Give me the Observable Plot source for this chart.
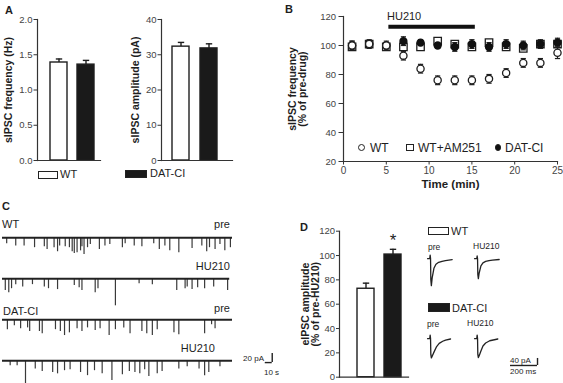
<!DOCTYPE html>
<html>
<head>
<meta charset="utf-8">
<script src="https://cdn.jsdelivr.net/npm/d3@7"></script>
<script src="https://cdn.jsdelivr.net/npm/@observablehq/plot@0.6"></script>
<style>
  html, body { margin: 0; padding: 0; background: #fff; }
  #fig { position: relative; width: 563px; height: 383px; overflow: hidden; background: #fff;
         font-family: "Liberation Sans", Arial, Helvetica, sans-serif; color: #1e1e1e; }
  .lbl { position: absolute; white-space: nowrap; line-height: 1; }
  .box { position: absolute; box-sizing: border-box; border: 1.2px solid #222; }
  .sym { position: absolute; box-sizing: border-box; border: 1.2px solid #222; }
</style>
</head>
<body>
<div id="fig"></div>
<script>
// ---------------- DATA ----------------
// Panel A: spontaneous IPSCs
const groups = ["WT", "DAT-CI"];
const sipscFreqHz = [1.39, 1.36];
const sipscFreqErr = [0.05, 0.06];
const sipscAmpPA = [32.3, 31.8];
const sipscAmpErr = [1.2, 1.3];

// Panel B: time course (% of pre-drug)
const timeMin = [1, 3, 5, 7, 9, 11, 13, 15, 17, 19, 21, 23, 25];
const wtFreq = [100, 101, 100, 93, 84, 76, 76, 76, 77, 81, 88, 88, 95];
const wtErr = [3, 3, 3, 3, 3, 3, 3, 3, 3, 3, 3, 3, 4];
const wtAm251Freq = [99, 101, 99, 99, 99, 103, 101, 99, 102, 99, 98, 101, 101];
const wtAm251Err = [2, 2, 2, 2, 2, 2, 2, 2, 2, 2, 2, 2, 2];
const datFreq = [100, 101, 100, 103, 102, 100, 99, 101, 99, 101, 100, 101, 102];
const datErr = [3, 2, 2, 3, 2, 2, 3, 3, 3, 3, 3, 3, 3];
const hu210Window = [5.3, 15.4];   // minutes of drug application
const hu210BarLevel = 113;

// Panel C: example sIPSC traces (event time in s, event amplitude in pA)
const traceIds = ["WT pre", "WT HU210", "DAT-CI pre", "DAT-CI HU210"];
const traceEndSec = [330, 326, 330, 330];
const wtPreT = [6, 19, 31, 46, 60, 64, 74, 79, 82, 90, 96, 100, 103, 107, 112, 114, 117, 122, 126, 139, 147, 154, 172, 176, 189, 200, 217, 225, 233, 240, 253, 272, 286, 293, 297, 305, 312, 319, 327];
const wtPreA = [13, 18, 18, 22, 20, 26, 22, 31, 18, 20, 22, 31, 35, 33, 29, 20, 37, 22, 15, 26, 18, 15, 22, 13, 18, 20, 13, 26, 18, 29, 33, 24, 18, 31, 22, 26, 15, 29, 22];
const wtHuT = [4, 9, 13, 19, 29, 43, 60, 66, 79, 103, 110, 114, 133, 137, 162, 196, 215, 250, 262, 265, 272, 280, 290, 303, 323];
const wtHuA = [26, 31, 22, 13, 18, 13, 18, 22, 24, 15, 20, 26, 31, 22, 60, 11, 13, 26, 22, 18, 24, 20, 22, 18, 26];
const datPreSpT = [7, 17, 26, 36, 39, 53, 57, 76, 83, 89, 96, 107, 114, 122, 133, 140, 153, 162, 174, 183, 200, 207, 215, 222, 246, 253, 290, 300, 305];
const datPreSpA = [22, 13, 20, 18, 26, 26, 31, 22, 26, 35, 29, 20, 26, 18, 24, 20, 35, 22, 18, 31, 26, 31, 35, 22, 29, 33, 31, 11, 20];
const datHuSpT = [11, 21, 33, 47, 57, 72, 79, 89, 97, 112, 122, 132, 143, 157, 172, 182, 190, 197, 204, 210, 222, 229, 253, 265, 282, 290, 296, 312];
const datHuSpA = [11, 11, 53, 18, 24, 26, 29, 22, 20, 26, 33, 22, 29, 44, 31, 24, 26, 29, 20, 35, 29, 24, 18, 13, 18, 33, 26, 13];
const cScaleBarSec = [377, 387];   // 10 s
const cScaleBarPA = [-4, 16];      // 20 pA

// Panel D: evoked IPSC amplitude (% of pre-HU210)
const eipscPct = [72.7, 100.8];
const eipscErr = [4.6, 4.3];
const sigMarks = ["", "*"];

// Panel D insets: averaged eIPSC waveforms (ms, pA)
const wavePreWT_T = [-22, -6, -3, 0, 2, 6, 12, 25, 40, 60, 85, 110, 160];
const wavePreWT_I = [0, 0, 20, 0, -120, -154, -110, -55, -32, -21, -15, -11, -6];
const waveHuWT_T = [-22, -6, -3, 0, 2, 6, 12, 25, 40, 60, 85, 110, 160];
const waveHuWT_I = [0, 0, 15, 0, -90, -114, -82, -41, -24, -16, -11, -8, -5];
const wavePreDAT_T = [-22, -6, -3, 0, 2, 6, 12, 27, 45, 64, 90, 111, 148];
const wavePreDAT_I = [0, 0, 20, 0, -90, -110, -100, -74, -45, -27, -15, -8, -2];
const waveHuDAT_T = [-22, -6, -3, 0, 2, 6, 12, 25, 40, 60, 90, 150];
const waveHuDAT_I = [0, 0, 20, 0, -90, -108, -98, -70, -42, -25, -12, -2];
const dScaleBarMs = [244, 444];    // 200 ms
const dScaleBarPA = [-153, -113];  // 40 pA

// ---------------- HELPERS ----------------
const fig = document.getElementById("fig");
const FONT = '"Liberation Sans", Arial, Helvetica, sans-serif';
const INK = "#1e1e1e";
const AX = "#333";
function mount(svg, left, top) {
  svg.style.position = "absolute";
  svg.style.left = left + "px";
  svg.style.top = top + "px";
  svg.style.overflow = "visible";
  fig.appendChild(svg);
}
function label(text, left, top, size, opts = {}) {
  const d = document.createElement("div");
  d.className = "lbl";
  d.textContent = text;
  d.style.top = top + "px";
  if (opts.right != null) d.style.right = opts.right + "px"; else d.style.left = left + "px";
  d.style.fontSize = size + "px";
  if (opts.bold) d.style.fontWeight = "bold";
  if (opts.color) d.style.color = opts.color;
  fig.appendChild(d);
}
function box(left, top, w, h, fill) {
  const d = document.createElement("div");
  d.className = "box";
  Object.assign(d.style, {left: left + "px", top: top + "px", width: w + "px", height: h + "px", background: fill});
  fig.appendChild(d);
}
function sym(cx, cy, size, round, fill) {
  const d = document.createElement("div");
  d.className = "sym";
  Object.assign(d.style, {left: (cx - size / 2) + "px", top: (cy - size / 2) + "px", width: size + "px", height: size + "px",
    background: fill, borderRadius: round ? "50%" : "0"});
  fig.appendChild(d);
}
const capSymbol = {
  draw(ctx, size) { const w = Math.sqrt(size / Math.PI); ctx.moveTo(-w, 0); ctx.lineTo(w, 0); }
};
const baseStyle = {fontFamily: FONT, fontSize: "10px", color: AX, background: "none"};
const yTitle = (text, dx) => Plot.text([text], {frameAnchor: "left", textAnchor: "middle", lineAnchor: "middle", dx, rotate: -90,
  fontWeight: "bold", fontSize: 10.5, fill: INK, lineHeight: 1.0});

// ---------------- PANEL A ----------------
const aTable = groups.map((g, i) => ({group: g, freq: sipscFreqHz[i], freqErr: sipscFreqErr[i], amp: sipscAmpPA[i], ampErr: sipscAmpErr[i]}));
function barPanel({width, height, ml, mr, mt, mb, pi, po, align, ydomain, ticks, fmt, field, err, ylabel, labelDx, tickSize, tickPad, extra = {}}) {
  const table = extra.table ?? aTable;
  return Plot.plot({
    width, height, marginLeft: ml, marginRight: mr, marginTop: mt, marginBottom: mb,
    style: baseStyle,
    x: {domain: groups, paddingInner: pi, paddingOuter: po, align, axis: null},
    y: {domain: ydomain, axis: null},
    color: {domain: groups, range: ["#ffffff", "#1a1a1a"]},
    marks: [
      Plot.ruleX(table, {x: "group", y1: field, y2: d => d[field] + d[err], stroke: INK, strokeWidth: 1.4}),
      Plot.dot(table, {x: "group", y: d => d[field] + d[err], symbol: capSymbol, r: 3.2, stroke: INK, strokeWidth: 1.4, fill: "none"}),
      Plot.barY(table, {x: "group", y: field, fill: "group", stroke: INK, strokeWidth: 1.4}),
      Plot.frame({anchor: "left", stroke: AX, strokeWidth: 1.2}),
      Plot.frame({anchor: "bottom", stroke: AX, strokeWidth: 1.2}),
      Plot.axisY({ticks, tickFormat: fmt, tickSize, tickPadding: tickPad, label: null, fontSize: 9.5, stroke: AX, fill: "#444"}),
      yTitle(ylabel, labelDx),
      ...(extra.marks ?? [])
    ]
  });
}
mount(barPanel({width: 110, height: 185, ml: 37, mr: 10, mt: 19, mb: 25, pi: 0.36, po: 0.33, align: 0.67,
  ydomain: [0, 2], ticks: [0, 0.5, 1, 1.5, 2], fmt: ".1f", field: "freq", err: "freqErr",
  ylabel: "sIPSC frequency (Hz)", labelDx: -29, tickSize: 3.5, tickPad: 1.5}), 0, 0);
mount(barPanel({width: 130, height: 185, ml: 51, mr: 8, mt: 19, mb: 25, pi: 0.39, po: 0.46, align: 0.43,
  ydomain: [0, 40], ticks: [0, 10, 20, 30, 40], fmt: "d", field: "amp", err: "ampErr",
  ylabel: "sIPSC amplitude (pA)", labelDx: -26, tickSize: 3.5, tickPad: 1.5}), 110, 0);

label("A", 5, 5, 11, {bold: true, color: INK});
box(38, 171, 20, 7.5, "#fff");
label("WT", 60, 169, 11);
box(125, 170, 22, 8, "#1a1a1a");
label("DAT-CI", 150, 168, 11);

// ---------------- PANEL B ----------------
const mk = (vals, errs, series) => timeMin.map((t, i) => ({time: t, v: vals[i], e: errs[i], series}));
const bWT = mk(wtFreq, wtErr, "WT");
const bAM = mk(wtAm251Freq, wtAm251Err, "WT+AM251");
const bDAT = mk(datFreq, datErr, "DAT-CI");
const errMarks = (tbl) => [
  Plot.ruleX(tbl, {x: "time", y1: d => d.v - d.e, y2: d => d.v + d.e, stroke: INK, strokeWidth: 1.2}),
  Plot.dot(tbl, {x: "time", y: d => d.v + d.e, symbol: capSymbol, r: 2.6, stroke: INK, strokeWidth: 1.2, fill: "none"}),
  Plot.dot(tbl, {x: "time", y: d => d.v - d.e, symbol: capSymbol, r: 2.6, stroke: INK, strokeWidth: 1.2, fill: "none"})
];
const bPlot = Plot.plot({
  width: 283, height: 195, marginLeft: 63, marginRight: 6, marginTop: 16, marginBottom: 34,
  style: baseStyle,
  x: {domain: [0, 25], axis: null},
  y: {domain: [20, 120], axis: null},
  marks: [
    Plot.ruleY([{start: hu210Window[0], end: hu210Window[1], level: hu210BarLevel}], {x1: "start", x2: "end", y: "level", stroke: "#111", strokeWidth: 4}),
    ...errMarks(bAM),
    Plot.dot(bAM, {x: "time", y: "v", symbol: "square", r: 4.2, fill: "#fff", stroke: INK, strokeWidth: 1.3}),
    ...errMarks(bDAT),
    Plot.dot(bDAT, {x: "time", y: "v", r: 3.4, fill: "#111", stroke: "#111"}),
    ...errMarks(bWT),
    Plot.dot(bWT, {x: "time", y: "v", r: 3.6, fill: "#fff", stroke: INK, strokeWidth: 1.3}),
    Plot.frame({anchor: "left", stroke: AX, strokeWidth: 1.2}),
    Plot.frame({anchor: "bottom", stroke: AX, strokeWidth: 1.2}),
    Plot.axisY({ticks: [20, 40, 60, 80, 100, 120], tickSize: 4.5, tickPadding: 3, label: null, fontSize: 9.5, stroke: AX, fill: "#444"}),
    Plot.axisX({ticks: [0, 5, 10, 15, 20, 25], tickSize: 3.5, tickPadding: 2, label: null, fontSize: 10, stroke: AX, fill: "#444"}),
    yTitle("sIPSC frequency\n(% of pre-drug)", -46),
    Plot.text(["Time (min)"], {frameAnchor: "bottom", dy: 26, fontWeight: "bold", fontSize: 11.5, fill: INK})
  ]
});
mount(bPlot, 280, 0);
label("B", 285, 4, 11, {bold: true, color: INK});
label("HU210", 387, 11, 11);
sym(361.7, 147.3, 7.5, true, "#fff");
label("WT", 370, 142, 12);
sym(410, 147.3, 7.5, false, "#fff");
label("WT+AM251", 418, 142, 12);
sym(498, 147.3, 6.5, true, "#111");
label("DAT-CI", 505, 142, 12);

// ---------------- PANEL C ----------------
const spikeSets = [[wtPreT, wtPreA], [wtHuT, wtHuA], [datPreSpT, datPreSpA], [datHuSpT, datHuSpA]];
const cSpikes = spikeSets.flatMap(([ts, as], k) => ts.map((t, i) => ({trace: traceIds[k], t, a: as[i]})));
const cTraces = traceIds.map((id, k) => ({trace: id, end: traceEndSec[k]}));
const cBar = [{trace: traceIds[3], x1: cScaleBarSec[0], x2: cScaleBarSec[1], y1: cScaleBarPA[0], y2: cScaleBarPA[1]}];
const cPlot = Plot.plot({
  width: 280, height: 193, marginLeft: 2, marginRight: 48, marginTop: 26.7, marginBottom: 2.3,
  style: baseStyle,
  x: {domain: [0, 330], axis: null},
  y: {domain: [-46, 45], axis: null},
  fy: {domain: traceIds, padding: 0, axis: null},
  marks: [
    Plot.ruleX(cSpikes, {x: "t", y1: 0, y2: d => -d.a, fy: "trace", stroke: "#3a3a3a", strokeWidth: 1.2}),
    Plot.ruleY(cTraces, {y: 0, x1: 0, x2: "end", fy: "trace", stroke: "#222", strokeWidth: 2.2}),
    Plot.ruleY(cBar, {y: "y1", x1: "x1", x2: "x2", fy: "trace", stroke: "#222", strokeWidth: 1.4}),
    Plot.ruleX(cBar, {x: "x2", y1: "y1", y2: "y2", fy: "trace", stroke: "#222", strokeWidth: 1.4})
  ]
});
mount(cPlot, 0, 190);
label("C", 2, 201, 11, {bold: true, color: INK});
label("WT", 2, 219, 11);
label("pre", 0, 219, 11, {right: 333});
label("HU210", 0, 261, 11, {right: 333});
label("DAT-CI", 3, 306, 11);
label("pre", 0, 303, 11, {right: 333});
label("HU210", 0, 343, 11, {right: 348});
label("20 pA", 0, 354.5, 8, {right: 299});
label("10 s", 264, 368.5, 8);

// ---------------- PANEL D ----------------
const dTable = groups.map((g, i) => ({group: g, pct: eipscPct[i], pctErr: eipscErr[i], sig: sigMarks[i]}));
mount(barPanel({width: 140, height: 188, ml: 59, mr: 12, mt: 35.7, mb: 6.3, pi: 0.375, po: 0.42, align: 0.72,
  ydomain: [0, 120], ticks: [0, 20, 40, 60, 80, 100, 120], fmt: "d", field: "pct", err: "pctErr",
  ylabel: "eIPSC amplitude\n(% of pre-HU210)", labelDx: -29, tickSize: 3, tickPad: 1.5,
  extra: {table: dTable, marks: [Plot.text(dTable, {x: "group", y: d => d.pct + d.pctErr + 7, text: "sig", fontSize: 17, fill: INK})]}}), 280, 195);
label("D", 300, 222, 11, {bold: true, color: INK});

const waveSets = [
  ["WT", "pre", wavePreWT_T, wavePreWT_I], ["WT", "HU210", waveHuWT_T, waveHuWT_I],
  ["DAT-CI", "pre", wavePreDAT_T, wavePreDAT_I], ["DAT-CI", "HU210", waveHuDAT_T, waveHuDAT_I]
];
const waves = waveSets.flatMap(([g, c, ts, is]) => ts.map((t, i) => ({geno: g, cond: c, id: g + c, t, pA: is[i]})));
const dBar = [{geno: "DAT-CI", cond: "HU210", x1: dScaleBarMs[0], x2: dScaleBarMs[1], y1: dScaleBarPA[0], y2: dScaleBarPA[1]}];
const insetPlot = Plot.plot({
  width: 153, height: 188, marginLeft: 16, marginRight: 43, marginTop: 27, marginBottom: 1,
  style: baseStyle,
  x: {domain: [-30, 318], axis: null},
  y: {domain: [-250, 206], axis: null},
  fx: {domain: ["pre", "HU210"], padding: 0, axis: null},
  fy: {domain: ["WT", "DAT-CI"], padding: 0, axis: null},
  marks: [
    Plot.line(waves, {x: "t", y: "pA", z: "id", fx: "cond", fy: "geno", stroke: "#222", strokeWidth: 1.3}),
    Plot.ruleY(dBar, {y: "y1", x1: "x1", x2: "x2", fx: "cond", fy: "geno", stroke: "#222", strokeWidth: 1.4}),
    Plot.ruleX(dBar, {x: "x2", y1: "y1", y2: "y2", fx: "cond", fy: "geno", stroke: "#222", strokeWidth: 1.4})
  ]
});
mount(insetPlot, 410, 195);
box(428, 227, 21, 7.5, "#fff");
label("WT", 451, 226, 11);
box(428, 303, 22, 9, "#1a1a1a");
label("DAT-CI", 452, 303, 11);
label("pre", 428, 243, 8.5);
label("HU210", 473, 242, 8.5);
label("pre", 427, 320, 8.5);
label("HU210", 467, 319, 8.5);
label("40 pA", 510, 356.5, 8);
label("200 ms", 510, 368, 8);
</script>
</body>
</html>
